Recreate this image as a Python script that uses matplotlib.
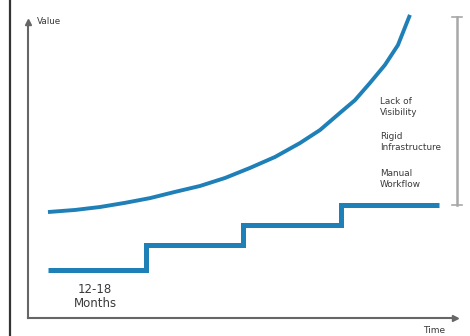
import matplotlib
matplotlib.use("Agg")
import matplotlib.pyplot as plt

# data (x in months, y in arbitrary value units)
curve_t = [3.06, 7.20, 11.03, 14.85, 18.68, 22.51, 26.34, 30.17, 34.00, 37.83,
           41.65, 44.72, 47.78, 50.08, 52.37, 54.67, 56.66, 58.50]
curve_v = [35.8, 36.5, 37.5, 38.9, 40.5, 42.6, 44.6, 47.3, 50.7, 54.4,
           59.1, 63.5, 69.3, 73.6, 79.4, 85.5, 92.2, 102.4]
step_t = [3, 18, 33, 48, 63]
step_v = [16.2, 24.7, 31.4, 38.2, 38.2]
pain_points = ["Lack of\nVisibility", "Rigid\nInfrastructure", "Manual\nWorkflow"]
pain_y = [71.3, 59.5, 47.1]
bracket_span = (38.2, 101.7)

blue = "#1f80b8"
axis_grey = "#666666"
text_col = "#3a3a3a"
plt.rcParams['font.family'] = ['DejaVu Sans']

fig = plt.figure(figsize=(4.7, 3.36), dpi=100)
fig.patch.set_facecolor("white")

# outer frame line on the left
fig.add_artist(plt.Line2D([10/470, 10/470], [0, 1], transform=fig.transFigure,
                          color="#333333", lw=1.6))

ax = fig.add_axes([28/470, 18/336, 427/470, 296/336])
ax.set_xlim(0, 65.4)
ax.set_ylim(0, 100)
for s in ["top", "right"]:
    ax.spines[s].set_visible(False)
for s in ["left", "bottom"]:
    ax.spines[s].set_color(axis_grey)
    ax.spines[s].set_linewidth(1.5)
ax.set_xticks([])
ax.set_yticks([])

# axis arrows
ax.plot(0, 100, marker="^", color=axis_grey, ms=4, clip_on=False)
ax.plot(65.4, 0, marker=">", color=axis_grey, ms=4, clip_on=False)
ax.text(1.4, 100, "Value", fontsize=6.3, color=text_col, va="center", ha="left")
ax.text(62.2, -4.1, "Time", fontsize=6.5, color=text_col, va="center", ha="center",
        clip_on=False)

ax.plot(curve_t, curve_v, color=blue, lw=2.8, solid_capstyle="butt",
        solid_joinstyle="round", clip_on=False)
ax.step(step_t, step_v, where="post", color=blue, lw=3.6, solid_joinstyle="miter",
        solid_capstyle="butt")

ax.text(10.3, 7.3, "12-18\nMonths", fontsize=8.5, color=text_col, ha="center",
        va="center", linespacing=1.05)

for lab, y in zip(pain_points, pain_y):
    ax.text(53.9, y, lab, fontsize=6.4, color=text_col, ha="left", va="center",
            linespacing=1.3)

# bracket
bx = 65.7
ax.plot([bx, bx], bracket_span, color="#a8a8a8", lw=1.8, clip_on=False)
for y in bracket_span:
    ax.plot([bx - 0.8, bx + 0.8], [y, y], color="#a8a8a8", lw=1.2, clip_on=False)

fig.savefig("out.png", dpi=100, facecolor="white")
